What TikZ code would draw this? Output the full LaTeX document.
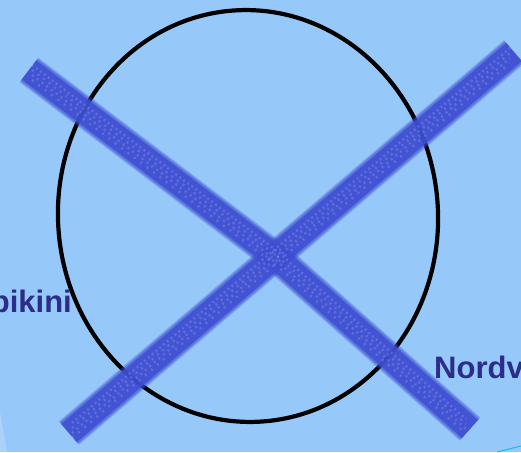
\documentclass[tikz,border=0pt]{standalone}
\usepackage{fontspec}
\setmainfont{Liberation Sans}
\definecolor{slidebg}{RGB}{150, 201, 249}
\definecolor{chalkblue}{RGB}{62, 78, 210}
\definecolor{labelblue}{RGB}{44, 44, 138}
\definecolor{edgecyan}{RGB}{20, 190, 240}
\usepackage{tikz}
\usetikzlibrary{arrows.meta, positioning, calc}

\begin{document}
\begin{tikzpicture}[x=1pt, y=-1pt,
		labeltext/.style={font=\fontsize{31}{36}\selectfont\bfseries, text=labelblue, inner sep=0pt},
		chalk/.style={chalkblue, line cap=butt, line join=round}]
	\fill[slidebg] (0,0) rectangle (521,452);
	\useasboundingbox (0,0) rectangle (521,452);
	\clip (0,0) rectangle (521,452);
	% corner decoration of the slide
	\fill[white, opacity=0.2] (0,412) -- (7,452) -- (0,452) -- cycle;
	\draw[edgecyan, line width=1pt] (497,452) -- (521,446);
	% the ring
	\draw[black, line width=4.2pt, rotate around={4:(248,216)}] (248,216) ellipse[x radius=190pt, y radius=206pt];
	% the cross, drawn in layers
	\foreach \w/\op in {31/0.3, 28/0.5, 24/0.85}{
		\draw[chalk, line width=\w pt, opacity=\op] (29,70) -- (277,258) -- (470,429);
		\draw[chalk, line width=\w pt, opacity=\op] (69,433) -- (514,52);
	}
	\foreach \d/\p in {-7/3, -2/5, 3/4, 8/6}{
		\draw[white, opacity=0.15, line width=2.5pt, dash pattern=on 2pt off \p pt, shift={(0,\d)}] (32,72) -- (277,258) -- (466,426);
		\draw[white, opacity=0.15, line width=2.5pt, dash pattern=on 2pt off \p pt, shift={(0,\d)}] (72,430) -- (510,55);
	}
	% labels at the slide edges
	\node[labeltext, anchor=base east] (bikini) at (72,312) {bikini};
	\node[labeltext, anchor=base west] (nordv) at (434,378) {Nordv};
\end{tikzpicture}
\end{document}
